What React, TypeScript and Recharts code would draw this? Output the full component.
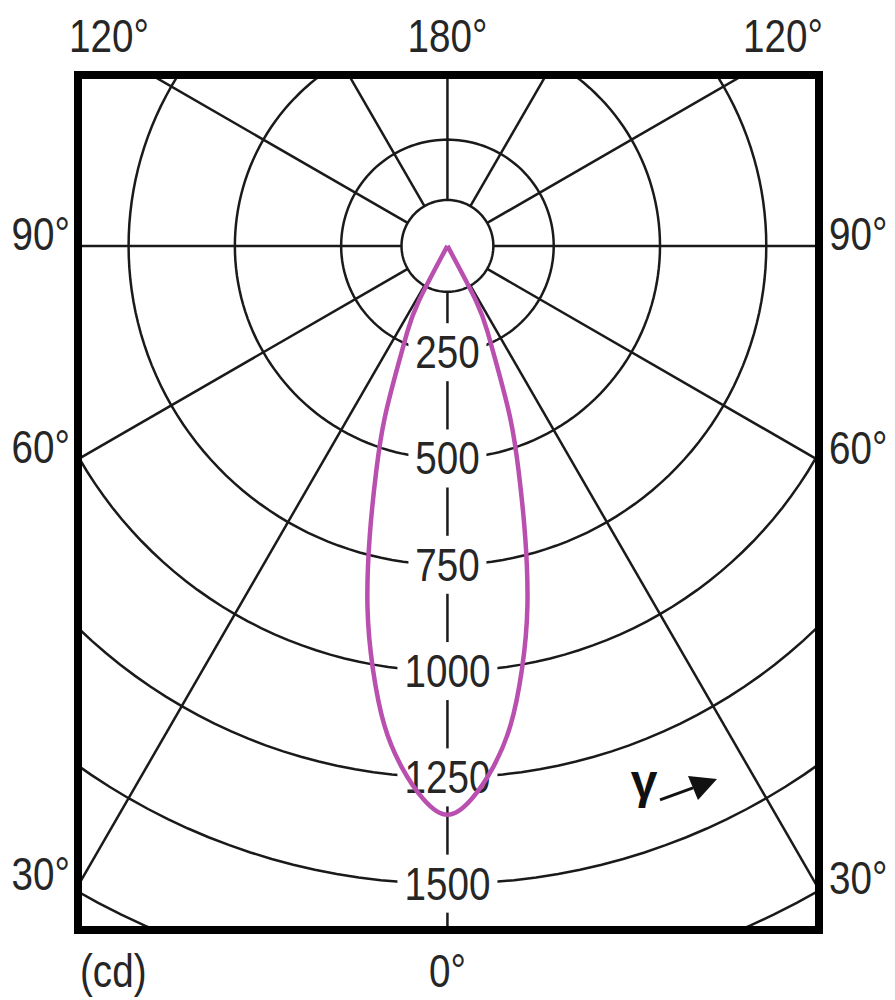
import { ScatterChart, Scatter, XAxis, YAxis, ReferenceArea, ReferenceDot } from 'recharts';

// luminous intensity (cd) against gamma angle, plane is symmetric left/right
const GAMMA = [0, 2.5, 5, 7.5, 10, 12.5, 15, 17.5, 20, 22.5, 25, 27.5, 30];
const CANDELA = [1338, 1302, 1231, 1137, 1010, 869, 706, 558, 433, 303, 224, 146, 0];

// grid
const RINGS = [250, 500, 750, 1000, 1250, 1500, 1750];
const RING_LABELS = [250, 500, 750, 1000, 1250, 1500];
const SPOKES = [0, 30, 60, 90, 120, 150, 180, 210, 240, 270, 300, 330];
const HOLE = 108;

// angle labels round the frame
const SIDE_ANGLES = [90, 60, 30];
const TOP_ANGLES = [120, 180, 120];
const BOTTOM_LABELS = ['(cd)', '0°'];

const X_MIN = -869;
const X_MAX = 874;
const Y_MIN = -1609;
const Y_MAX = 402;

const PURPLE = '#b94fae';
const INK = '#1a1a1a';
const FONT = "'Liberation Sans', Arial, sans-serif";
const labelStyle = { fontFamily: FONT, fontSize: 46, fill: '#262626' };

const rad = (d: number) => (d * Math.PI) / 180;
const polar = (deg: number, cd: number) => ({ x: cd * Math.sin(rad(deg)), y: -cd * Math.cos(rad(deg)) });

const curve = [
  ...GAMMA.map((g, i) => polar(-g, CANDELA[i])).reverse(),
  ...GAMMA.slice(1).map((g, i) => polar(g, CANDELA[i + 1])),
];

const ring = (cd: number) => {
  const pts = [];
  for (let a = 0; a <= 360; a += 2) pts.push(polar(a, cd));
  return pts;
};

const topTicks = TOP_ANGLES.map((a, i) => (a === 180 ? 0 : i === 0 ? X_MIN : X_MAX));
const leftTicks = SIDE_ANGLES.map(a => (X_MIN * Math.cos(rad(a))) / Math.sin(rad(a)));
const rightTicks = SIDE_ANGLES.map(a => (-X_MAX * Math.cos(rad(a))) / Math.sin(rad(a)));
const bottomTicks = [X_MIN, 0];

const noDot = () => <g />;

// narrow-ish label text, squeezed horizontally like the original typeface
function SText({ x, y, anchor, children }: any) {
  return (
    <text transform={`translate(${x} ${y}) scale(0.84 1)`} textAnchor={anchor} style={labelStyle}>
      {children}
    </text>
  );
}

function TopTick(props: any) {
  const { x, y, index } = props;
  const a = TOP_ANGLES[index];
  const anchor = a === 180 ? 'middle' : index === 0 ? 'start' : 'end';
  const dx = a === 180 ? 0 : index === 0 ? -9 : 4;
  return <SText x={x + dx} y={y - 23} anchor={anchor}>{a}°</SText>;
}

function LeftTick(props: any) {
  const { x, y, index } = props;
  return <SText x={x - 8} y={y + 4} anchor="end">{SIDE_ANGLES[index]}°</SText>;
}

function RightTick(props: any) {
  const { x, y, index } = props;
  return <SText x={x + 10} y={y + 4} anchor="start">{SIDE_ANGLES[index]}°</SText>;
}

function BottomTick(props: any) {
  const { x, y, index } = props;
  return (
    <SText x={x + (index === 0 ? 2 : 0)} y={y + 57} anchor={index === 0 ? 'start' : 'middle'}>
      {BOTTOM_LABELS[index]}
    </SText>
  );
}

function RingLabel({ cx, cy, value }: any) {
  const w = String(value).length * 22 + 12;
  return (
    <g>
      <rect x={cx - w / 2} y={cy - 29} width={w} height={58} fill="#fff" />
      <SText x={cx} y={cy + 16} anchor="middle">{value}</SText>
    </g>
  );
}

function GammaArrow({ cx, cy }: any) {
  return (
    <g>
      <text x={cx - 16} y={cy - 2} textAnchor="middle" style={{ fontFamily: FONT, fontSize: 48, fontWeight: 600, fill: '#111' }}>γ</text>
      <line x1={cx} y1={cy} x2={cx + 33} y2={cy - 12} stroke="#111" strokeWidth={3} />
      <polygon points={`${cx + 28},${cy - 24} ${cx + 38},${cy} ${cx + 57},${cy - 21}`} fill="#111" />
    </g>
  );
}

export default function App() {
  return (
    <div style={{ position: 'absolute', left: 0, top: 0, width: 895, height: 1000, background: '#fff' }}>
      <ScatterChart width={895} height={1000} margin={{ top: 0, right: 0, bottom: 0, left: 0 }}>
        <XAxis xAxisId="b" type="number" dataKey="x" orientation="bottom" domain={[X_MIN, X_MAX]} allowDataOverflow
          ticks={bottomTicks} interval={0} height={70} axisLine={false} tickLine={false} tickSize={0} tickMargin={0} tick={<BottomTick />} />
        <XAxis xAxisId="t" type="number" dataKey="x" orientation="top" domain={[X_MIN, X_MAX]} allowDataOverflow
          ticks={topTicks} interval={0} height={75} axisLine={false} tickLine={false} tickSize={0} tickMargin={0} tick={<TopTick />} />
        <YAxis yAxisId="l" type="number" dataKey="y" orientation="left" domain={[Y_MIN, Y_MAX]} allowDataOverflow
          ticks={leftTicks} interval={0} width={78} axisLine={false} tickLine={false} tickSize={0} tickMargin={0} tick={<LeftTick />} />
        <YAxis yAxisId="r" type="number" dataKey="y" orientation="right" domain={[Y_MIN, Y_MAX]} allowDataOverflow
          ticks={rightTicks} interval={0} width={76} axisLine={false} tickLine={false} tickSize={0} tickMargin={0} tick={<RightTick />} />

        {[HOLE, ...RINGS].map(r => (
          <Scatter key={`ring-${r}`} xAxisId="b" yAxisId="l" data={ring(r)} fill={INK} shape={noDot}
            line={{ stroke: INK, strokeWidth: 2.5 }} isAnimationActive={false} zIndex={100} />
        ))}
        {SPOKES.map(a => (
          <Scatter key={`spoke-${a}`} xAxisId="b" yAxisId="l" data={[polar(a, HOLE), polar(a, 2500)]} fill={INK} shape={noDot}
            line={{ stroke: INK, strokeWidth: 2.5 }} isAnimationActive={false} zIndex={100} />
        ))}

        {RING_LABELS.map(v => (
          <ReferenceDot key={`lbl-${v}`} xAxisId="b" yAxisId="l" x={0} y={-v} zIndex={200}
            shape={(p: any) => <RingLabel cx={p.cx} cy={p.cy} value={v} />} />
        ))}

        <Scatter xAxisId="b" yAxisId="l" data={curve} fill={PURPLE} shape={noDot} lineJointType="natural"
          line={{ stroke: PURPLE, strokeWidth: 4.5 }} isAnimationActive={false} zIndex={300} />

        <ReferenceArea xAxisId="b" yAxisId="l" x1={X_MIN} x2={X_MAX} y1={Y_MIN} y2={Y_MAX}
          fill="none" fillOpacity={0} stroke="#000" strokeWidth={8} ifOverflow="visible" zIndex={400} />

        <ReferenceDot xAxisId="b" yAxisId="l" x={500} y={-1303} zIndex={500} shape={(p: any) => <GammaArrow cx={p.cx} cy={p.cy} />} />
      </ScatterChart>
    </div>
  );
}
